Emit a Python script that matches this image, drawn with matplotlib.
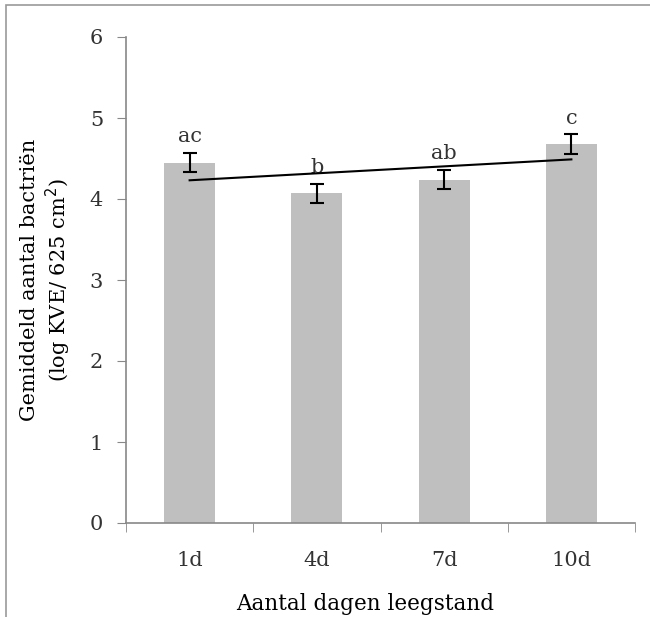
import numpy as np
import matplotlib
matplotlib.use("Agg")
import matplotlib.pyplot as plt
from matplotlib.patches import Rectangle

categories = ["1d", "4d", "7d", "10d"]
means = [4.45, 4.07, 4.24, 4.68]
errors = [0.12, 0.12, 0.12, 0.12]
letters = ["ac", "b", "ab", "c"]

plt.rcParams['font.family'] = ['DejaVu Serif']

fig = plt.figure(figsize=(6.5, 6.17), dpi=100)
ax = fig.add_axes([126/650, 1-523/617, (635-126)/650, (523-37)/617])

x = np.arange(len(categories))
ax.bar(x, means, width=0.4, color="#BFBFBF", zorder=2)
ax.errorbar(x, means, yerr=errors, fmt="none", ecolor="black", elinewidth=1.5,
            capsize=5, capthick=1.5, zorder=3)
coef = np.polyfit(x, means, 1)
ax.plot([x[0], x[-1]], np.polyval(coef, [x[0], x[-1]]), color="black", lw=1.5, zorder=4)
for xi, m, e, t in zip(x, means, errors, letters):
    ax.text(xi, m + e + 0.08, t, ha="center", va="bottom", fontsize=15, color="#333333")

ax.set_xlim(-0.5, 3.5)
ax.set_ylim(0, 6)
ax.set_yticks(range(0, 7))
ax.set_xticks(x)
ax.set_xticklabels(categories)
ax.set_xticks(np.arange(-0.5, 4.0, 1.0), minor=True)
ax.tick_params(axis="x", which="major", length=0, pad=20, labelsize=15, labelcolor="#333333")
ax.tick_params(axis="x", which="minor", length=6.5, color="#888888", direction="out")
ax.tick_params(axis="y", length=6.5, color="#888888", labelsize=15, pad=10, labelcolor="#333333")
for s in ["top", "right"]:
    ax.spines[s].set_visible(False)
for s in ["left", "bottom"]:
    ax.spines[s].set_color("#888888")
    ax.spines[s].set_linewidth(1.2)

ax.set_xlabel("Aantal dagen leegstand", fontsize=15.5)
ax.xaxis.set_label_coords(0.47, -0.145)
ax.set_ylabel("Gemiddeld aantal bactriën\n(log KVE/ 625 cm$^2$)", fontsize=15, labelpad=12)

fig.patches.append(Rectangle((6/650, -0.05), 1.2, 1 - 5/617 + 0.05, transform=fig.transFigure,
                             fill=False, edgecolor="#999999", lw=1.2))

fig.savefig("out.png", dpi=100)
